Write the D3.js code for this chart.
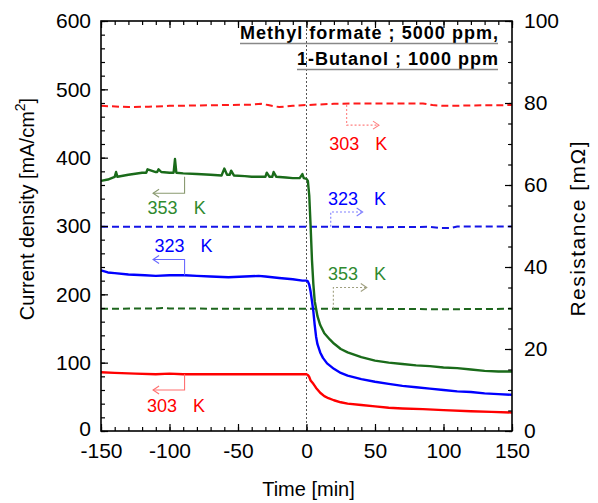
<!DOCTYPE html>
<html>
<head>
<meta charset="utf-8">
<script src="https://cdn.jsdelivr.net/npm/d3@7/dist/d3.min.js"></script>
<style>
  html, body { margin: 0; padding: 0; background: #fff; }
  svg { display: block; font-family: "Liberation Sans", Arial, sans-serif; }
</style>
</head>
<body>
<svg id="chart" width="598" height="503"></svg>
<script>
// ---- current density (left axis, mA/cm2) vs time (min) ----
const time353 = [-150,-145,-140,-139,-138,-130,-120,-117,-116,-110,-109,-108,-106,-100,-97,-96,-95,-90,-80,-70,-62,-60,-58,-56,-55,-53,-45,-40,-30,-29,-27,-25,-24,-22,-15,-10,-5,-3,-2,0,1,2,3,4,5,6,8,10,13,17,20,25,30,40,50,60,70,80,90,100,110,120,130,140,150];
const cur353  = [366,368,372,379,372,375,378,378,383,379,379,383,379,378,378,398,378,377,376,375,374,384,375,375,381,374,373,372,372,378,372,372,379,372,371,370,370,376,370,369,366,345,300,250,215,190,168,155,143,134,128,120,115,108,103,100,98,96,95,93,92,90,88,87,87];

const time323 = [-150,-145,-140,-130,-118,-110,-100,-89,-80,-70,-57,-45,-35,-30,-20,-10,-3,0,1,2,3,4,5,6,7,8,10,12,15,20,25,30,40,50,60,70,80,90,100,110,120,130,140,150];
const cur323  = [235,232,231,229,228,227,228,228,227,226,225,226,227,226,224,222,220,220,219,214,204,190,175,155,138,127,115,107,99,91,85,81,76,72,69,66,64,62,60,58,57,55,54,53];

const time303 = [-150,-140,-125,-110,-100,-90,-50,-10,0,1,2,3,5,7,10,13,16,20,25,30,40,50,60,70,85,100,120,135,150];
const cur303  = [86,85,84,83,84,83,83,83,83,82,79,74,69,63,56,51,48,45,42,40,38,36,34,33,32,30.5,29,28,27];

// ---- resistance (right axis, mOhm) vs time (min) ----
const timeR303 = [-150,-130,-115,-100,-80,-60,-40,-33,-28,-20,-10,0,20,40,60,85,92,100,120,150];
const res303   = [79.3,79.0,79.1,79.3,79.4,79.5,79.6,79.8,79.5,79.0,79.3,79.5,79.8,79.9,79.9,79.9,79.5,79.3,79.4,79.5];
const timeR323 = [-150,-100,-50,0,30,50,90,98,105,110,150];
const res323   = [49.8,49.8,49.8,49.8,49.8,49.7,49.8,49.5,49.5,49.9,49.9];
const timeR353 = [-150,-110,-105,-100,-50,0,50,100,150];
const res353   = [29.8,29.9,30.0,29.9,29.8,29.8,29.8,29.7,29.8];

// ---- ticks ----
const xTickLabels = [-150,-100,-50,0,50,100,150];
const yLeftTickLabels = [0,100,200,300,400,500,600];
const yRightTickLabels = [0,20,40,60,80,100];

// ---- annotations (time, value on the series' axis) ----
const leftNotes = [
  { label: "353", color: "#2f8a2f", arrow: "#8a9a70", tx: -116, ty: 318, ax: -89, y0: 372, y1: 348, tip: -112 },
  { label: "323", color: "#0000ff", arrow: "#6a6aff", tx: -111, ty: 262, ax: -89, y0: 228, y1: 251, tip: -112 },
  { label: "303", color: "#ff0000", arrow: "#ff7070", tx: -116.5, ty: 28, ax: -89, y0: 83, y1: 60, tip: -112 }
];
const rightNotes = [
  { label: "303", color: "#ff0000", arrow: "#ff8080", tx: 16.6, ty: 68.5, ax: 29.3, y0: 79.5, y1: 74.6, tip: 52.9 },
  { label: "323", color: "#0000ff", arrow: "#8080ff", tx: 15.7, ty: 55.1, ax: 17.7, y0: 49.8, y1: 53.4, tip: 41 },
  { label: "353", color: "#2f8a2f", arrow: "#a0a080", tx: 15.7, ty: 36.8, ax: 19.6, y0: 29.8, y1: 35, tip: 44 }
];

const svg = d3.select("#chart");
const m = { left: 101, right: 512, top: 21, bottom: 431 };

const x = d3.scaleLinear().domain([-150, 150]).range([m.left, m.right]);
const yL = d3.scaleLinear().domain([0, 600]).range([m.bottom, m.top]);
const yR = d3.scaleLinear().domain([0, 100]).range([m.bottom, m.top]);

// plain hyphen-minus for negative tick values
const fmt = d => String(d);

// zero-time marker
svg.append("line")
  .attr("x1", x(0)).attr("x2", x(0))
  .attr("y1", m.top).attr("y2", m.bottom)
  .attr("stroke", "#555").attr("stroke-width", 1)
  .attr("stroke-dasharray", "2,2");

// dashed resistance traces
const dashed = [
  { t: timeR303, v: res303, c: "#ff1a1a" },
  { t: timeR323, v: res323, c: "#1414e6" },
  { t: timeR353, v: res353, c: "#1d661d" }
];
dashed.forEach(s => {
  svg.append("path")
    .datum(s.t.map((t, i) => [t, s.v[i]]))
    .attr("fill", "none").attr("stroke", s.c).attr("stroke-width", 2)
    .attr("stroke-dasharray", "7,4")
    .attr("d", d3.line().x(d => x(d[0])).y(d => yR(d[1])));
});

// solid current-density traces
const solid = [
  { t: time303, v: cur303, c: "#ff0000" },
  { t: time323, v: cur323, c: "#0000ff" },
  { t: time353, v: cur353, c: "#1a6b1a" }
];
solid.forEach(s => {
  svg.append("path")
    .datum(s.t.map((t, i) => [t, s.v[i]]))
    .attr("fill", "none").attr("stroke", s.c).attr("stroke-width", 2.4)
    .attr("stroke-linejoin", "round")
    .attr("d", d3.line().x(d => x(d[0])).y(d => yL(d[1])));
});

// axes: ticks point inward
function styleAxis(g) {
  g.select(".domain").remove();
  g.selectAll("line").attr("stroke", "#000").attr("stroke-width", 1.2);
  g.selectAll("text").attr("fill", "#000").attr("font-size", 21);
}
const xMinor = d3.range(-150, 151, 10);
const yLMinor = d3.range(0, 601, 20);
const yRMinor = d3.range(0, 101, 5);

svg.append("g").attr("transform", `translate(0,${m.bottom})`)
  .call(d3.axisBottom(x).tickValues(xMinor).tickSize(-4).tickFormat(""))
  .call(styleAxis);
svg.append("g").attr("transform", `translate(0,${m.bottom})`)
  .call(d3.axisBottom(x).tickValues(xTickLabels).tickSize(-7).tickPadding(12).tickFormat(fmt))
  .call(styleAxis);
svg.append("g").attr("transform", `translate(0,${m.top})`)
  .call(d3.axisTop(x).tickValues(xMinor).tickSize(-4).tickFormat(""))
  .call(styleAxis);
svg.append("g").attr("transform", `translate(0,${m.top})`)
  .call(d3.axisTop(x).tickValues(xTickLabels).tickSize(-7).tickFormat(""))
  .call(styleAxis);

svg.append("g").attr("transform", `translate(${m.left},0)`)
  .call(d3.axisLeft(yL).tickValues(yLMinor).tickSize(-4).tickFormat(""))
  .call(styleAxis);
const leftAxis = svg.append("g").attr("transform", `translate(${m.left},0)`)
  .call(d3.axisLeft(yL).tickValues(yLeftTickLabels).tickSize(-7).tickPadding(10).tickFormat(fmt))
  .call(styleAxis);
// lift the bottom-left "0" a touch so it clears the time labels
leftAxis.selectAll(".tick").filter(d => d === 0).select("text").attr("y", -2);

svg.append("g").attr("transform", `translate(${m.right},0)`)
  .call(d3.axisRight(yR).tickValues(yRMinor).tickSize(-4).tickFormat(""))
  .call(styleAxis);
svg.append("g").attr("transform", `translate(${m.right},0)`)
  .call(d3.axisRight(yR).tickValues(yRightTickLabels).tickSize(-7).tickPadding(12).tickFormat(fmt))
  .call(styleAxis);

// frame
svg.append("rect")
  .attr("x", m.left).attr("y", m.top)
  .attr("width", m.right - m.left).attr("height", m.bottom - m.top)
  .attr("fill", "none").attr("stroke", "#000").attr("stroke-width", 1.6);

// axis titles
svg.append("text")
  .attr("x", (m.left + m.right) / 2 + 2).attr("y", 496)
  .attr("text-anchor", "middle").attr("font-size", 20).attr("fill", "#000")
  .text("Time [min]");

const ylab = svg.append("text")
  .attr("transform", "translate(34,209) rotate(-90)")
  .attr("text-anchor", "middle").attr("font-size", 20).attr("fill", "#000");
ylab.append("tspan").text("Current density [mA/cm");
ylab.append("tspan").attr("font-size", 14).attr("dy", -9).text("2");
ylab.append("tspan").attr("dy", 9).text("]");

svg.append("text")
  .attr("transform", "translate(585,229) rotate(-90)")
  .attr("text-anchor", "middle").attr("font-size", 21).attr("fill", "#000")
  .attr("textLength", 175).attr("lengthAdjust", "spacing")
  .text("Resistance [mΩ]");

// gas composition note
const noteLines = [
  { text: "Methyl formate ; 5000 ppm,", y: 39, width: 258 },
  { text: "1-Butanol ; 1000 ppm", y: 65, width: 201 }
];
noteLines.forEach(n => {
  svg.append("text")
    .attr("x", 498).attr("y", n.y)
    .attr("text-anchor", "end").attr("font-size", 18).attr("font-weight", "bold")
    .attr("fill", "#000")
    .attr("textLength", n.width).attr("lengthAdjust", "spacing")
    .text(n.text);
  svg.append("line")
    .attr("x1", 498 - n.width).attr("x2", 498)
    .attr("y1", n.y + 4.5).attr("y2", n.y + 4.5)
    .attr("stroke", "#888").attr("stroke-width", 1.6);
});

// series labels with arrows pointing to their axis
function label(n, yScale) {
  const t = svg.append("text")
    .attr("x", x(n.tx)).attr("y", yScale(n.ty))
    .attr("font-size", 18).attr("fill", n.color);
  t.append("tspan").text(n.label);
  t.append("tspan").attr("dx", 16).text("K");
}
function arrow(n, yScale, dashedStroke) {
  const dir = n.tip < n.ax ? 1 : -1;
  const g = svg.append("g").attr("fill", "none").attr("stroke", n.arrow).attr("stroke-width", 1.1);
  const p = g.append("path")
    .attr("d", `M${x(n.ax)},${yScale(n.y0)}V${yScale(n.y1)}H${x(n.tip)}`);
  if (dashedStroke) p.attr("stroke-dasharray", "2,2");
  g.append("path")
    .attr("d", `M${x(n.tip) + dir * 6},${yScale(n.y1) - 4}L${x(n.tip)},${yScale(n.y1)}L${x(n.tip) + dir * 6},${yScale(n.y1) + 4}`);
}
leftNotes.forEach(n => { arrow(n, yL, false); label(n, yL); });
rightNotes.forEach(n => { arrow(n, yR, true); label(n, yR); });
</script>
</body>
</html>
